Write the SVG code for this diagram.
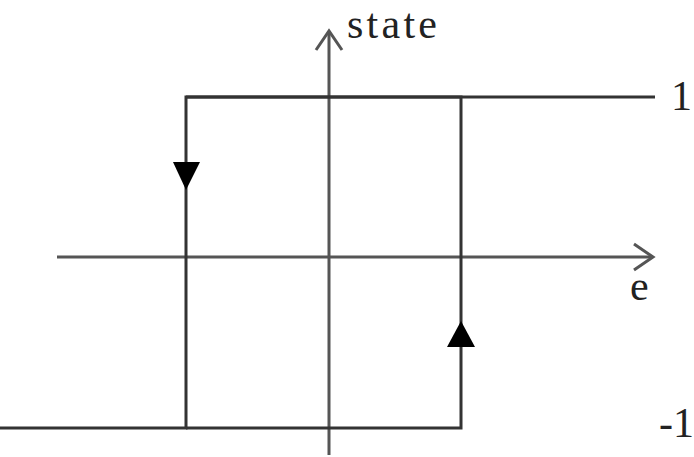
<svg xmlns="http://www.w3.org/2000/svg" width="694" height="457" viewBox="0 0 694 457">
<style>
.ln{stroke:#333;stroke-width:3;fill:none}
.ax{stroke:#555;stroke-width:3;fill:none}
.tri{fill:#000}
text{font-family:"Liberation Serif",serif;font-size:42px;fill:#222}
</style>
<rect width="694" height="457" fill="#fff"/>
<g id="connectors">
<line class="ax" x1="329" y1="455" x2="329" y2="31"/>
<polyline class="ax" points="316,50 329,31 342,50"/>
<line class="ax" x1="57" y1="257" x2="653" y2="257"/>
<polyline class="ax" points="634,244 653,257 634,270"/>
<polyline class="ln" points="655,97 186,97 186,428 0,428"/>
<polyline class="ln" points="186,97 461,97 461,428 186,428"/>
<polygon class="tri" points="173,162 200,162 186,190"/>
<polygon class="tri" points="461,321 447,347 475,347"/>
</g>
<g id="labels">
<text x="347" y="38" textLength="90">state</text>
<text x="630" y="300">e</text>
<text x="671" y="110">1</text>
<text x="659" y="437">-1</text>
</g>
</svg>
